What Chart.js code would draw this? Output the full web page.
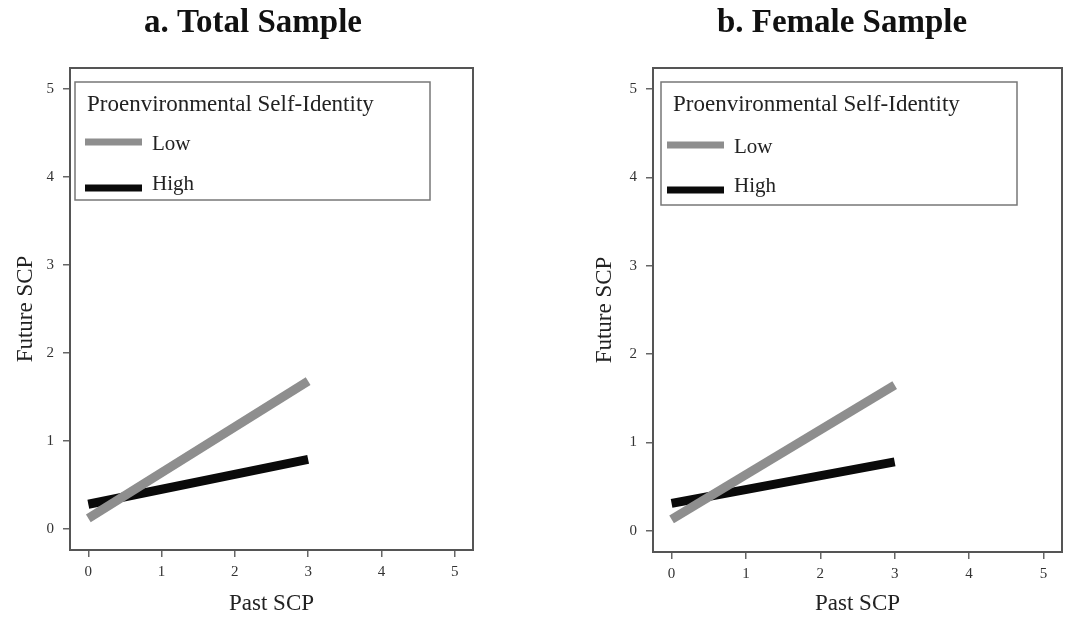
<!DOCTYPE html>
<html>
<head>
<meta charset="utf-8">
<script src="https://cdn.jsdelivr.net/npm/chart.js@4"></script>
<style>
  body { margin: 0; background: #fff; }
  .panel { position: absolute; top: 0; width: 533px; height: 618px; }
</style>
</head>
<body>
<div class="panel" style="left:0"><canvas id="total"></canvas></div>
<div class="panel" style="left:533px"><canvas id="female"></canvas></div>
<script>
const pastSCP = [0, 3];
const seriesNames = ['Low', 'High'];
const totalLow = [0.12, 1.68];
const totalHigh = [0.28, 0.79];
const femaleLow = [0.13, 1.65];
const femaleHigh = [0.31, 0.78];
const tickValues = [0, 1, 2, 3, 4, 5];

const serif = 'Liberation Serif, Times New Roman, serif';
const lineColors = ['#8e8e8e', '#0a0a0a'];

// title + frame + legend box drawn inside the plot
const panelDecor = {
    id: 'panelDecor',
    afterDraw(chart, args, opts) {
        const ctx = chart.ctx;
        const a = chart.chartArea;
        ctx.save();
        // frame
        ctx.strokeStyle = '#555';
        ctx.lineWidth = 2;
        ctx.strokeRect(a.left, a.top, a.right - a.left, a.bottom - a.top);
        // panel title
        ctx.fillStyle = '#111';
        ctx.font = 'bold 33px ' + serif;
        ctx.textAlign = 'center';
        ctx.textBaseline = 'alphabetic';
        ctx.fillText(opts.title, opts.titleX, 32);
        // legend box
        const b = opts.box;
        const bx = a.left + b.x, by = a.top + b.y;
        ctx.strokeStyle = '#777';
        ctx.lineWidth = 1.5;
        ctx.strokeRect(bx, by, b.w, b.h);
        ctx.textAlign = 'left';
        ctx.fillStyle = '#222';
        ctx.font = '23px ' + serif;
        ctx.fillText('Proenvironmental Self-Identity', bx + 12, by + 29);
        ctx.font = '21px ' + serif;
        chart.data.datasets.forEach((ds, i) => {
            const ly = by + b.rows[i];
            ctx.strokeStyle = ds.borderColor;
            ctx.lineWidth = 7;
            ctx.beginPath();
            ctx.moveTo(bx + b.sx, ly);
            ctx.lineTo(bx + b.sx + 57, ly);
            ctx.stroke();
            ctx.fillStyle = '#222';
            ctx.fillText(ds.label, bx + b.sx + 67, ly + b.textDy[i]);
        });
        ctx.restore();
    }
};

function makePanel(id, low, high, title, titleX, pad, yTitlePad, xHeight, box) {
    const toPoints = vals => pastSCP.map((x, i) => ({ x: x, y: vals[i] }));
    return new Chart(document.getElementById(id), {
        type: 'line',
        data: {
            datasets: [
                { label: seriesNames[0], data: toPoints(low), borderColor: lineColors[0], borderWidth: 9, pointRadius: 0, borderCapStyle: 'butt' },
                { label: seriesNames[1], data: toPoints(high), borderColor: lineColors[1], borderWidth: 9, pointRadius: 0, borderCapStyle: 'butt' }
            ]
        },
        options: {
            responsive: true,
            maintainAspectRatio: false,
            animation: false,
            layout: { padding: pad },
            plugins: {
                legend: { display: false },
                tooltip: { enabled: false },
                panelDecor: { title: title, titleX: titleX, box: box }
            },
            scales: {
                x: {
                    type: 'linear',
                    min: -0.25,
                    max: 5.25,
                    afterBuildTicks: s => { s.ticks = tickValues.map(v => ({ value: v })); },
                    afterFit: s => { s.height = xHeight; },
                    border: { display: false },
                    grid: { drawOnChartArea: false, drawTicks: true, tickLength: 7, color: '#666', lineWidth: 1.5 },
                    ticks: { padding: 6, color: '#333', font: { family: serif, size: 15 } },
                    title: { display: true, text: 'Past SCP', color: '#222', padding: 0, font: { family: serif, size: 23 } }
                },
                y: {
                    min: -0.24,
                    max: 5.24,
                    afterBuildTicks: s => { s.ticks = tickValues.map(v => ({ value: v })); },
                    afterFit: s => { s.width = 70; },
                    border: { display: false },
                    grid: { drawOnChartArea: false, drawTicks: true, tickLength: 7, color: '#666', lineWidth: 1.5 },
                    ticks: { padding: 9, color: '#333', font: { family: serif, size: 15 } },
                    title: { display: true, text: 'Future SCP', color: '#222', padding: { top: yTitlePad, bottom: 0 }, font: { family: serif, size: 23 } }
                }
            }
        },
        plugins: [panelDecor]
    });
}

makePanel('total', totalLow, totalHigh, 'a. Total Sample', 253,
    { top: 68, right: 60, bottom: 0, left: 0 }, 12, 68,
    { x: 5, y: 14, w: 355, h: 118, sx: 10, rows: [60, 106], textDy: [8, 2] });

makePanel('female', femaleLow, femaleHigh, 'b. Female Sample', 309,
    { top: 68, right: 4, bottom: 0, left: 50 }, 8, 66,
    { x: 8, y: 14, w: 356, h: 123, sx: 6, rows: [63, 108], textDy: [8, 2] });
</script>
</body>
</html>
